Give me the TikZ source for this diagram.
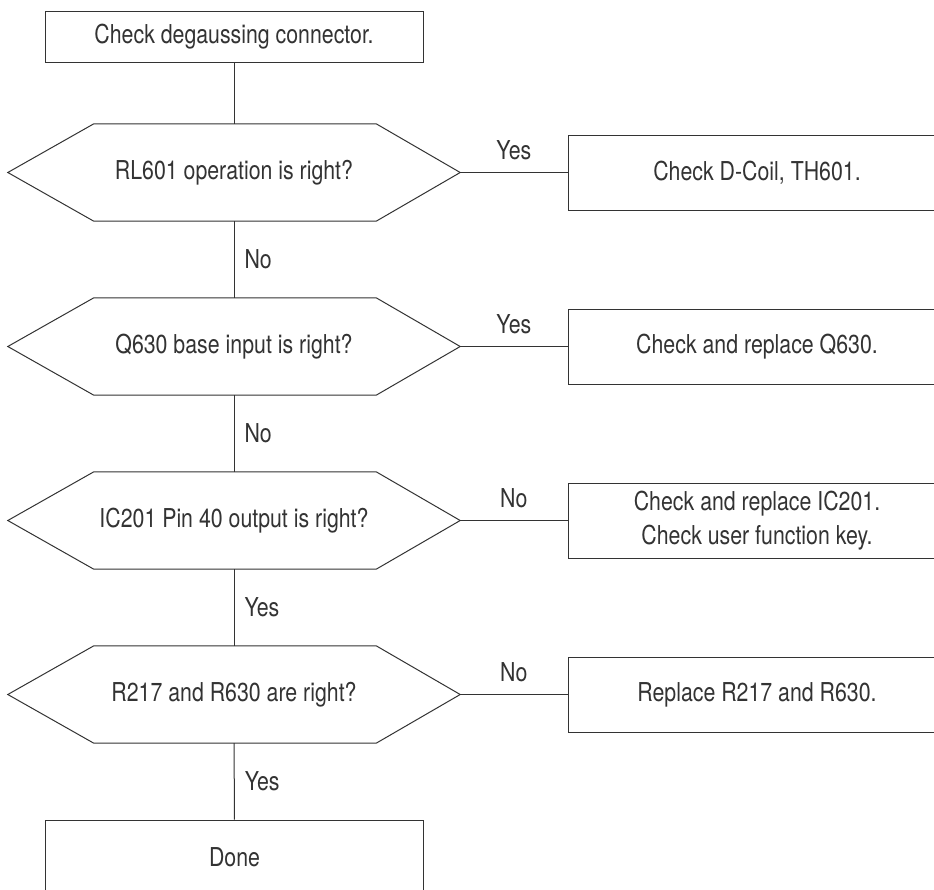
\documentclass[tikz,border=0pt]{standalone}
\usepackage{fontspec}
\setmainfont[FakeStretch=0.82]{TeX Gyre Heros}
\usetikzlibrary{calc}
\definecolor{ink}{HTML}{333333}
\tikzset{
  boxnode/.style={draw=ink, line width=1pt, text=ink, minimum width=378pt, minimum height=#1, inner sep=0pt, align=center},
  boxnode/.default=75pt,
  hexnode/.style={text=ink, minimum width=452pt, minimum height=97pt, inner sep=0pt},
  conn/.style={draw=ink, line width=1pt},
  lbl/.style={text=ink, inner sep=0pt}
}
\newcommand{\hexdraw}[1]{%
  \draw[conn] (#1.west) -- ([xshift=86pt]#1.north west) -- ([xshift=-84pt]#1.north east)
    -- (#1.east) -- ([xshift=-84pt]#1.south east) -- ([xshift=86pt]#1.south west) -- cycle;}
\begin{document}
\begin{tikzpicture}[x=1pt, y=-1pt, font=\fontsize{26}{34}\selectfont]
\useasboundingbox (0,0) rectangle (934,889);
\clip (0,0) rectangle (934,889);
\fill[white] (0,0) rectangle (934,889);

\node[boxnode=51pt] (start) at (234,36.5) {Check degaussing connector.};

\node[hexnode] (q1) at (234,172.5) {RL601 operation is right?};
\node[hexnode] (q2) at (234,346.5) {Q630 base input is right?};
\node[hexnode] (q3) at (234,520.5) {IC201 Pin 40 output is right?};
\node[hexnode] (q4) at (234,694.5) {R217 and R630 are right?};
\hexdraw{q1}\hexdraw{q2}\hexdraw{q3}\hexdraw{q4}

\node[boxnode] (a1) at (757,172.5) {Check D-Coil, TH601.};
\node[boxnode] (a2) at (757,346.5) {Check and replace Q630.};
\node[boxnode] (a3) at (757,520.5) {Check and replace IC201.\\Check user function key.};
\node[boxnode] (a4) at (757,694.5) {Replace R217 and R630.};

\node[boxnode=90pt] (done) at (234.5,865) {};
\node[lbl] (donetxt) at (234.5,857) {Done};

\draw[conn] (start) -- (q1);
\draw[conn] (q1) -- node[lbl, right=10pt] {No} (q2);
\draw[conn] (q2) -- node[lbl, right=10pt] {No} (q3);
\draw[conn] (q3) -- node[lbl, right=10pt] {Yes} (q4);
\draw[conn] (q4) -- node[lbl, right=10pt] {Yes} (done);

\draw[conn] (q1.east) -- node[lbl, above=12pt] {Yes} (a1.west |- q1.east);
\draw[conn] (q2.east) -- node[lbl, above=12pt] {Yes} (a2.west |- q2.east);
\draw[conn] (q3.east) -- node[lbl, above=12pt] {No} (a3.west |- q3.east);
\draw[conn] (q4.east) -- node[lbl, above=12pt] {No} (a4.west |- q4.east);
\end{tikzpicture}
\end{document}
